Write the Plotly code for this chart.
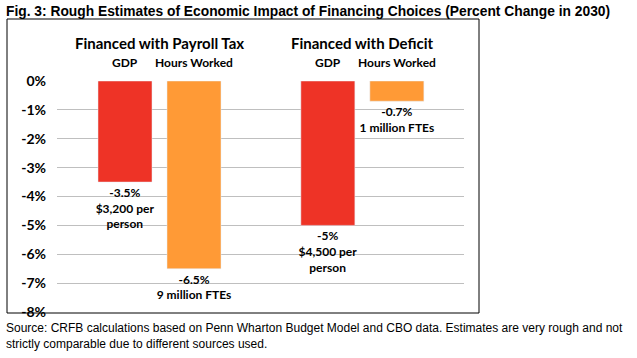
import plotly.graph_objects as go

# ---- data ----
groups = ["Financed with Payroll Tax", "Financed with Deficit"]
measures = ["GDP", "Hours Worked"]
gdp_values = [-3.5, -5.0]
hours_values = [-6.5, -0.7]
gdp_notes = ["$3,200 per<br>person", "$4,500 per<br>person"]
hours_notes = ["9 million FTEs", "1 million FTEs"]
tick_values = [0, -1, -2, -3, -4, -5, -6, -7, -8]
tick_labels = ["0%", "-1%", "-2%", "-3%", "-4%", "-5%", "-6%", "-7%", "-8%"]
title = "Fig. 3: Rough Estimates of Economic Impact of Financing Choices (Percent Change in 2030)"
source = ("Source: CRFB calculations based on Penn Wharton Budget Model and CBO data. Estimates are very rough and not<br>"
          "strictly comparable due to different sources used.")

# ---- layout constants (pixels) ----
W, H = 637, 358
PL, PR, PT, PB = 57, 464, 81, 312      # plot area
SLOT = 69.0                             # px per unit on x
GROUP_SHIFT = 2.94                      # units between groups
BAR_W = 54 / SLOT
X_LEFT = -68 / SLOT
X_RIGHT = X_LEFT + (PR - PL) / SLOT

RED = "#EE3326"
ORANGE = "#FF9A36"

def fmt(v):
    return f"{v:g}%"

gdp_x = [g * GROUP_SHIFT + 0 for g in range(len(groups))]
hours_x = [g * GROUP_SHIFT + 1 for g in range(len(groups))]

LABEL_FONT = dict(family="Lato, Carlito, sans-serif", size=12, color="black", weight="bold")

fig = go.Figure()
fig.add_bar(x=gdp_x, y=gdp_values, width=BAR_W, marker_color=RED,
            text=[f"{fmt(v)}<br>{n}" for v, n in zip(gdp_values, gdp_notes)],
            textposition="outside", textangle=0, constraintext="none",
            textfont=LABEL_FONT, cliponaxis=False, hoverinfo="skip")
fig.add_bar(x=hours_x, y=hours_values, width=BAR_W, marker_color=ORANGE,
            text=[f"{fmt(v)}<br>{n}" for v, n in zip(hours_values, hours_notes)],
            textposition="outside", textangle=0, constraintext="none",
            textfont=LABEL_FONT, cliponaxis=False, hoverinfo="skip")

def py(pix):
    return (PB - pix) / (PB - PT)

def px(pix):
    return (pix - PL) / (PR - PL)

annotations = []
annotations.append(dict(text=f"<b>{title}</b>", x=px(4), y=py(11), xref="paper", yref="paper",
                        xanchor="left", yanchor="middle", showarrow=False,
                        font=dict(family="Liberation Sans, Arial, sans-serif", size=13.8, color="black")))
annotations.append(dict(text=source, x=px(4), y=py(336), xref="paper", yref="paper",
                        xanchor="left", yanchor="middle", showarrow=False, align="left",
                        font=dict(family="Liberation Sans, Arial, sans-serif", size=12, color="black")))
for g, name in enumerate(groups):
    annotations.append(dict(text=name, x=g * GROUP_SHIFT + 0.5, y=py(43), xref="x", yref="paper",
                            xanchor="center", yanchor="middle", showarrow=False,
                            font=dict(family="Lato, Carlito, sans-serif", size=15, color="black", weight="bold")))
    for i, m in enumerate(measures):
        annotations.append(dict(text=m, x=g * GROUP_SHIFT + i, y=py(62), xref="x", yref="paper",
                                xanchor="center", yanchor="middle", showarrow=False,
                                font=dict(family="Lato, Carlito, sans-serif", size=12, color="black", weight="bold")))

fig.update_layout(
    width=W, height=H,
    margin=dict(l=PL, r=W - PR, t=PT, b=H - PB, pad=0, autoexpand=False),
    paper_bgcolor="white", plot_bgcolor="white",
    showlegend=False, barmode="overlay",
    annotations=annotations,
    shapes=[dict(type="rect", xref="paper", yref="paper",
                 x0=px(7), x1=px(479), y0=py(313), y1=py(19),
                 line=dict(color="black", width=1), fillcolor="rgba(0,0,0,0)", layer="above")],
    xaxis=dict(range=[X_LEFT, X_RIGHT], showticklabels=False, showgrid=False, zeroline=False,
               showline=False, ticks=""),
    yaxis=dict(range=[-8, 0], tickvals=tick_values, ticktext=tick_labels, showgrid=True,
               gridcolor="#BFBFBF", gridwidth=1, zeroline=False, showline=False, ticks="",
               ticklabelstandoff=10,
               tickfont=dict(family="Lato, Carlito, sans-serif", size=14, color="black", weight="bold")),
)

fig.write_html("out.html", config={"displayModeBar": False},
               post_script="document.body.style.margin='0';document.body.style.padding='0';")
